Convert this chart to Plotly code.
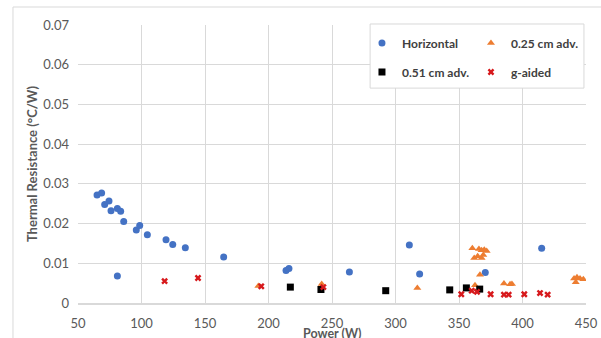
import plotly.graph_objects as go

# Horizontal
hor_x = [65.0, 68.6, 71.0, 74.4, 76.0, 81.0, 83.6, 86.0, 95.9, 98.6, 104.6, 119.3, 124.6, 134.5,
         164.7, 213.8, 216.1, 81.0, 263.7, 310.9, 319.0, 370.7, 415.1]
hor_y = [0.0272, 0.0277, 0.0248, 0.0257, 0.0232, 0.0238, 0.0231, 0.0205, 0.0184, 0.0195, 0.0172,
         0.0159, 0.0147, 0.0139, 0.0116, 0.0082, 0.0087, 0.0068, 0.0078, 0.0146, 0.0073, 0.0077, 0.0138]

# 0.25 cm adv.
a25_x = [192.0, 241.9, 317.2, 360.5, 365.7, 367.8, 369.9, 371.8, 362.0, 364.7, 367.8, 369.1,
         366.5, 362.6, 385.4, 390.2, 391.7, 440.6, 442.9, 445.3, 447.9, 441.9]
a25_y = [0.0043, 0.0048, 0.0038, 0.0138, 0.0136, 0.0133, 0.0134, 0.0131, 0.0113, 0.0118, 0.0113,
         0.0121, 0.0071, 0.0045, 0.0049, 0.0047, 0.0048, 0.0062, 0.0065, 0.0062, 0.0060, 0.0052]

# 0.51 cm adv.
a51_x = [217.2, 241.3, 292.3, 342.7, 355.8, 366.3]
a51_y = [0.0040, 0.0034, 0.0031, 0.0033, 0.0038, 0.0035]

# g-aided
g_x = [118.2, 144.5, 194.3, 243.2, 351.8, 360.0, 364.2, 374.9, 385.4, 389.1, 401.4, 413.8, 419.8]
g_y = [0.0055, 0.0063, 0.0042, 0.0040, 0.0022, 0.0031, 0.0028, 0.0022, 0.0021, 0.0021, 0.0022,
       0.0025, 0.0021]

FONT = "Lato, 'Open Sans', sans-serif"
GRID = "#D9D9D9"

fig = go.Figure()
fig.add_trace(go.Scatter(x=hor_x, y=hor_y, mode="markers", name="Horizontal", legend="legend",
                         marker=dict(symbol="circle", size=7, color="#4472C4")))
fig.add_trace(go.Scatter(x=a25_x, y=a25_y, mode="markers", name="0.25 cm adv.", legend="legend",
                         marker=dict(symbol="triangle-up", size=7, color="#ED7D31")))
fig.add_trace(go.Scatter(x=a51_x, y=a51_y, mode="markers", name="0.51 cm adv.", legend="legend2",
                         marker=dict(symbol="square", size=7, color="#000000")))
fig.add_trace(go.Scatter(x=g_x, y=g_y, mode="markers", name="g-aided", legend="legend2",
                         marker=dict(symbol="x", size=6, color="#D7191C")))

# legend frame and outer chart border
fig.add_shape(type="rect", xref="paper", yref="paper", x0=0.575, x1=0.996, y0=0.773, y1=1.0036,
              line=dict(color="#D9D9D9", width=1), fillcolor="white", layer="above")
fig.add_shape(type="rect", xref="paper", yref="paper", x0=-0.128, x1=1.2, y0=-0.3, y1=1.0647,
              line=dict(color="#D9D9D9", width=1), fillcolor="rgba(0,0,0,0)", layer="below")

# x-axis title (as annotation so it can sit below the shifted tick labels)
fig.add_annotation(text="Power (W)", xref="paper", yref="paper", x=0.5, y=-0.108,
                   xanchor="center", yanchor="middle", showarrow=False,
                   font=dict(family=FONT, size=12.5, color="#595959", weight="bold"))

legend_common = dict(orientation="h", bgcolor="rgba(0,0,0,0)", borderwidth=0,
                     font=dict(family=FONT, size=12, color="#404040", weight="bold"),
                     entrywidth=64, xanchor="left", yanchor="middle", itemclick=False)

fig.update_layout(
    width=601, height=338,
    margin=dict(l=78, r=15, t=25, b=35),
    paper_bgcolor="white", plot_bgcolor="white",
    font=dict(family=FONT, size=13, color="#595959"),
    showlegend=True,
    legend=dict(x=0.559, y=0.935, **legend_common),
    legend2=dict(x=0.559, y=0.831, **legend_common),
    xaxis=dict(range=[50, 450], dtick=50, tick0=50, showgrid=True, gridcolor=GRID, gridwidth=1,
               zeroline=False, showline=True, linecolor=GRID, linewidth=2, automargin=False,
               ticks="", ticklabelstandoff=7, tickfont=dict(size=13, color="#595959")),
    yaxis=dict(range=[0, 0.07], dtick=0.01, tick0=0, showgrid=True, gridcolor=GRID, gridwidth=1,
               zeroline=False, showline=False, ticks="", ticklabelstandoff=8, automargin=False,
               tickfont=dict(size=13, color="#595959"),
               title=dict(text="Thermal Resistance (°C/W)", standoff=2,
                          font=dict(size=13, color="#595959", weight="bold"))),
)

fig.write_html("out.html")
